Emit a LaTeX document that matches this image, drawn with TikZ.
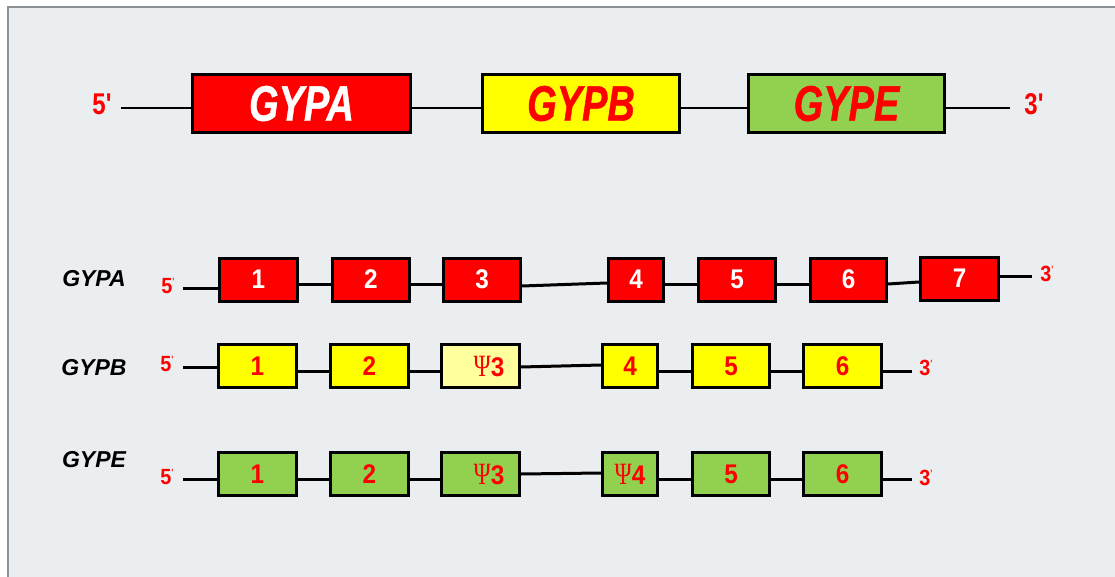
\documentclass[tikz,border=0pt]{standalone}
\usepackage{fontspec}
\setmainfont{Liberation Sans}
\newfontfamily\condf[FakeStretch=0.76,FakeBold=0.8]{Liberation Sans}
\newfontfamily\bigf[FakeStretch=0.8]{Liberation Sans}
\newfontfamily\numf[FakeStretch=0.9]{Liberation Sans}
\newfontfamily\psif[FakeStretch=0.75]{Liberation Serif}
\definecolor{bg}{HTML}{EBEEF1}
\definecolor{framec}{HTML}{8C9198}
\definecolor{gred}{HTML}{FF0000}
\definecolor{gyel}{HTML}{FFFF00}
\definecolor{ggrn}{HTML}{92D050}
\definecolor{pyel}{HTML}{FFFF9E}
\newcommand{\psex}[1]{{\psif\mdseries\fontsize{31}{31}\selectfont\symbol{"03A8}}#1}
\newcommand{\pr}{\raisebox{7.6pt}{\fontsize{12}{12}\selectfont\mdseries'}}
\begin{document}
\begin{tikzpicture}[x=1pt,y=-1pt,
  gene/.style={draw=black, line width=3pt, minimum height=58, inner sep=0pt,
    font=\condf\bfseries\itshape\fontsize{50}{50}\selectfont},
  exon/.style={draw=black, line width=3pt, minimum height=43, inner sep=0pt,
    font=\numf\bfseries\fontsize{27}{27}\selectfont},
  exA/.style={exon, fill=gred, text=white},
  exB/.style={exon, fill=gyel, text=gred},
  exP/.style={exon, fill=pyel, text=gred},
  exE/.style={exon, fill=ggrn, text=gred},
  link/.style={line width=3pt},
  toplink/.style={line width=2pt},
  endlab/.style={text=gred, font=\numf\bfseries\fontsize{22}{22}\selectfont, inner sep=0pt},
  bigend/.style={text=gred, font=\bigf\bfseries\fontsize{30}{30}\selectfont, inner sep=0pt},
  rowlab/.style={font=\bfseries\itshape\fontsize{23}{23}\selectfont, inner sep=0pt}]
\useasboundingbox (0,0) rectangle (1115,577);
\fill[white] (0,0) rectangle (1115,577);
\fill[bg] (8,7) rectangle (1120,580);
\draw[framec, line width=2pt] (1120,7) -- (8,7) -- (8,580);

% top row
\node[bigend] (t5l) at (102,104) {5'};
\node[bigend] (t3l) at (1034,104) {3'};
\coordinate (t5) at (121,108);
\coordinate (t3) at (1010,108);
\node[gene, fill=gred, text=white, minimum width=218] (ga) at (301.5,103.5) {GYPA};
\node[gene, fill=gyel, text=gred, minimum width=197] (gb) at (581,103.5) {GYPB};
\node[gene, fill=ggrn, text=gred, minimum width=196] (ge) at (846.5,103.5) {GYPE};
\draw[toplink] (t5) -- (ga.west |- t5);
\draw[toplink] ([yshift=-4.5pt]ga.east) -- ([yshift=-4.5pt]gb.west);
\draw[toplink] ([yshift=-4.5pt]gb.east) -- ([yshift=-4.5pt]ge.west);
\draw[toplink] ([yshift=-4.5pt]ge.east) -- (t3);

% row labels
\node[rowlab] (la) at (94,279) {GYPA};
\node[rowlab] (lb) at (94,368) {GYPB};
\node[rowlab] (le) at (94,460) {GYPE};

% GYPA row
\node[endlab] (a5l) at (168,286) {5\pr};
\node[endlab] (a3l) at (1047,274) {3\pr};
\coordinate (a5) at (183,288);
\coordinate (a3) at (1032,276);
\node[exA, minimum width=78] (a1) at (258.5,279.5) {1};
\node[exA, minimum width=77] (a2) at (371,279.5) {2};
\node[exA, minimum width=77] (a3b) at (482,279.5) {3};
\node[exA, minimum width=55] (a4) at (636,279.5) {4};
\node[exA, minimum width=77] (a5b) at (737,279.5) {5};
\node[exA, minimum width=76] (a6) at (848.5,279.5) {6};
\node[exA, minimum width=78] (a7) at (959.5,278.5) {7};
\draw[link] (a5) -- (a1.west |- a5);
\draw[link] ([yshift=-4.5pt]a1.east) -- ([yshift=-4.5pt]a2.west);
\draw[link] ([yshift=-4.5pt]a2.east) -- ([yshift=-4.5pt]a3b.west);
\draw[link] ([yshift=-6.5pt]a3b.east) -- ([yshift=-3.5pt]a4.west);
\draw[link] ([yshift=-4.5pt]a4.east) -- ([yshift=-4.5pt]a5b.west);
\draw[link] ([yshift=-4.5pt]a5b.east) -- ([yshift=-4.5pt]a6.west);
\draw[link] ([yshift=-4.5pt]a6.east) -- ([yshift=-3.5pt]a7.west);
\draw[link] ([yshift=2.5pt]a7.east) -- (a3);

% GYPB row
\node[endlab] (b5l) at (167,364) {5\pr};
\node[endlab] (b3l) at (926,368) {3\pr};
\coordinate (b5) at (183,367);
\coordinate (b3) at (912,371);
\node[exB, minimum width=78] (b1) at (257.5,366) {1};
\node[exB, minimum width=78] (b2) at (369.5,366) {2};
\node[exP, minimum width=78] (b3b) at (480.5,366) {\hspace*{17pt}\psex{3}};
\node[exB, minimum width=55] (b4) at (630,366) {4};
\node[exB, minimum width=77] (b5b) at (731,366) {5};
\node[exB, minimum width=78] (b6) at (842.5,366) {6};
\draw[link] (b5) -- (b1.west |- b5);
\draw[link] ([yshift=-5pt]b1.east) -- ([yshift=-5pt]b2.west);
\draw[link] ([yshift=-5pt]b2.east) -- ([yshift=-5pt]b3b.west);
\draw[link] ([yshift=-1pt]b3b.east) -- ([yshift=1pt]b4.west);
\draw[link] ([yshift=-5pt]b4.east) -- ([yshift=-5pt]b5b.west);
\draw[link] ([yshift=-5pt]b5b.east) -- ([yshift=-5pt]b6.west);
\draw[link] ([yshift=-5pt]b6.east) -- (b3);

% GYPE row
\node[endlab] (e5l) at (167,477) {5\pr};
\node[endlab] (e3l) at (926,478) {3\pr};
\coordinate (e5) at (183,479);
\coordinate (e3) at (912,479);
\node[exE, minimum width=78] (e1) at (257.5,474) {1};
\node[exE, minimum width=78] (e2) at (369.5,474) {2};
\node[exE, minimum width=78] (e3b) at (480.5,474) {\hspace*{17pt}\psex{3}};
\node[exE, minimum width=55] (e4) at (630,474) {\psex{4}};
\node[exE, minimum width=77] (e5b) at (731,474) {5};
\node[exE, minimum width=78] (e6) at (842.5,474) {6};
\draw[link] (e5) -- (e1.west |- e5);
\draw[link] ([yshift=-5pt]e1.east) -- ([yshift=-5pt]e2.west);
\draw[link] ([yshift=-5pt]e2.east) -- ([yshift=-5pt]e3b.west);
\draw[link] ([yshift=0pt]e3b.east) -- ([yshift=1pt]e4.west);
\draw[link] ([yshift=-5pt]e4.east) -- ([yshift=-5pt]e5b.west);
\draw[link] ([yshift=-5pt]e5b.east) -- ([yshift=-5pt]e6.west);
\draw[link] ([yshift=-5pt]e6.east) -- (e3);
\end{tikzpicture}
\end{document}
